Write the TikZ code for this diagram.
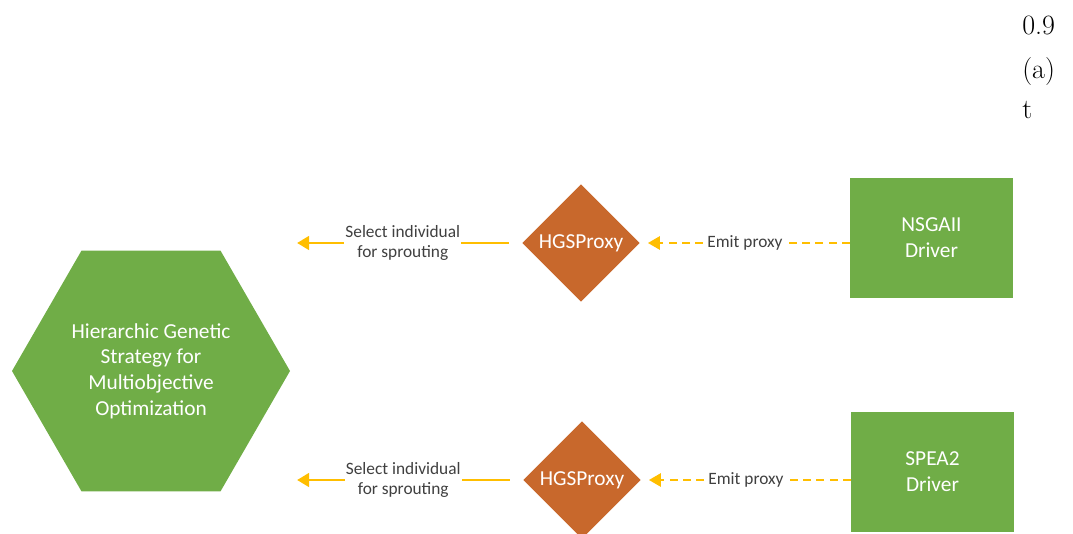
\documentclass[tikz,border=0pt]{standalone}
\usepackage{fontspec}
\setsansfont{Carlito}
\usetikzlibrary{shapes.geometric,arrows.meta,positioning}
\definecolor{drvgreen}{RGB}{112,173,71}
\definecolor{proxyorange}{RGB}{200,104,44}
\definecolor{arrowgold}{RGB}{255,190,0}
\definecolor{labelgray}{RGB}{64,64,64}

\begin{document}
\begin{tikzpicture}[x=0.75pt,y=0.75pt,
  hgs/.style={regular polygon,regular polygon sides=6,minimum size=208.5pt,inner sep=0pt,
    fill=drvgreen,text=white,align=center,font=\sffamily\fontsize{16}{19.3}\selectfont},
  proxy/.style={diamond,aspect=1,minimum width=88pt,minimum height=88pt,inner sep=0pt,
    fill=proxyorange,text=white,font=\sffamily\fontsize{16}{19.3}\selectfont},
  driver/.style={rectangle,minimum width=122pt,minimum height=90pt,
    fill=drvgreen,text=white,align=center,font=\sffamily\fontsize{16}{19.3}\selectfont},
  lbl/.style={fill=white,text=labelgray,inner sep=1pt,align=center,
    font=\sffamily\fontsize{13}{15.5}\selectfont},
  select/.style={draw=arrowgold,line width=2.2pt,-{Triangle[length=9pt,width=10pt]}},
  emit/.style={draw=arrowgold,line width=1.5pt,dash pattern=on 6pt off 4pt,
    -{Triangle[length=9pt,width=10pt]}}]

\useasboundingbox (0,0) rectangle (1073,-534);

\node[hgs] (HGS) at (151,-371) {Hierarchic Genetic\\Strategy for\\Multiobjective\\Optimization};
\node[proxy] (P1) at (581,-243) {HGSProxy};
\node[proxy] (P2) at (582,-480) {HGSProxy};
\node[driver] (N) at (931.5,-238) {NSGAII\\Driver};
\node[driver] (S) at (932.5,-472) {SPEA2\\Driver};
\coordinate (T1) at (297,-243);
\coordinate (T2) at (297,-480);

\path (P1.west) edge[select,shorten <=10pt] node[lbl,pos=0.53] {Select individual\\for sprouting} (T1)
      (P2.west) edge[select,shorten <=10pt] node[lbl,pos=0.53] {Select individual\\for sprouting} (T2);
\path (N.west |- P1) edge[emit,shorten >=6pt] node[lbl] {Emit proxy} (P1.east)
      (S.west |- P2) edge[emit,shorten >=6pt] node[lbl] {Emit proxy} (P2.east);

% stray marks from the page
\begin{scope}[every node/.style={anchor=base west,font=\fontsize{21}{25}\selectfont,inner sep=0pt}]
  \node (v) at (1022,-35) {0.9};
  \node (a) at (1022,-79) {(a)};
  \node (t) at (1022,-119) {t};
\end{scope}

\end{tikzpicture}
\end{document}
